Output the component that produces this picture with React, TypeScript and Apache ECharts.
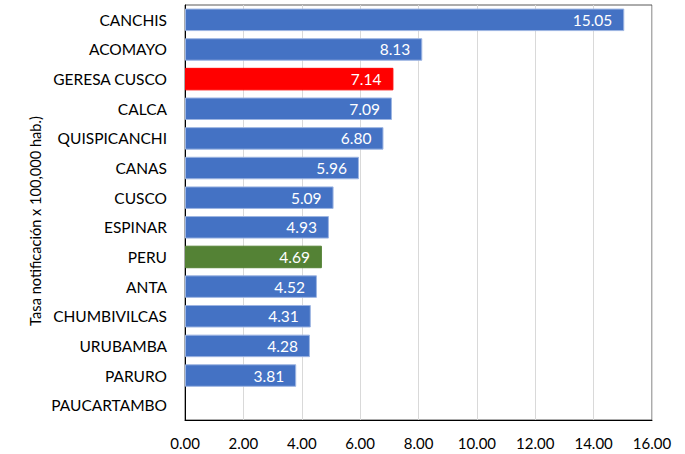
import React, { useEffect, useRef } from "react";
import * as echarts from "echarts";

const categories = [
  "CANCHIS", "ACOMAYO", "GERESA CUSCO", "CALCA", "QUISPICANCHI", "CANAS", "CUSCO",
  "ESPINAR", "PERU", "ANTA", "CHUMBIVILCAS", "URUBAMBA", "PARURO", "PAUCARTAMBO",
];
const values: (number | null)[] = [
  15.05, 8.13, 7.14, 7.09, 6.8, 5.96, 5.09, 4.93, 4.69, 4.52, 4.31, 4.28, 3.81, null,
];
const highlightColors: Record<string, string> = {
  "GERESA CUSCO": "#FF0000",
  PERU: "#548235",
};
const axisTitle = "Tasa notificación x 100,000 hab.)";
const FONT = "Lato";

export default function App() {
  const ref = useRef<HTMLDivElement>(null);
  useEffect(() => {
    if (!ref.current) return;
    const chart = echarts.init(ref.current, undefined, { renderer: "svg" });
    chart.setOption({
      animation: false,
      grid: {
        left: 185, top: 5, width: 467, height: 415,
        show: true, borderColor: "#595959", borderWidth: 1,
      },
      graphic: [
        {
          type: "text",
          x: 35, y: 221, rotation: Math.PI / 2,
          style: {
            text: axisTitle, fill: "#000", font: `14.6px ${FONT}`,
            textAlign: "center", textVerticalAlign: "middle",
            align: "center", verticalAlign: "middle",
          },
        },
      ],
      xAxis: {
        type: "value", min: 0, max: 16, interval: 2,
        axisLine: { show: true, lineStyle: { color: "#000", width: 1 } },
        axisTick: { show: false },
        splitLine: { show: true, lineStyle: { color: "#d9d9d9", width: 1 } },
        axisLabel: {
          color: "#000", fontFamily: FONT, fontSize: 15, margin: 15,
          formatter: (v: number) => v.toFixed(2),
        },
      },
      yAxis: {
        type: "category", data: categories, inverse: true,
        axisLine: { show: true, lineStyle: { color: "#000", width: 1 } },
        axisTick: { show: false },
        axisLabel: { color: "#000", fontFamily: FONT, fontSize: 15.5, margin: 18 },
      },
      series: [
        {
          type: "bar",
          barCategoryGap: "24%",
          data: categories.map((c, i) => ({
            value: values[i],
            itemStyle: {
              color: highlightColors[c] || "#4472C4",
              borderColor: highlightColors[c] ? highlightColors[c] : "#9DB5E2",
              borderWidth: 1,
            },
          })),
          label: {
            show: true, position: "insideRight", distance: 12,
            color: "#fff", fontFamily: FONT, fontSize: 15.5,
            formatter: (p: any) => (p.value == null ? "" : Number(p.value).toFixed(2)),
          },
        },
      ],
    });
    return () => chart.dispose();
  }, []);
  return (
    <div
      ref={ref}
      style={{ position: "fixed", left: 0, top: 0, width: 685, height: 454, background: "#fff" }}
    />
  );
}
